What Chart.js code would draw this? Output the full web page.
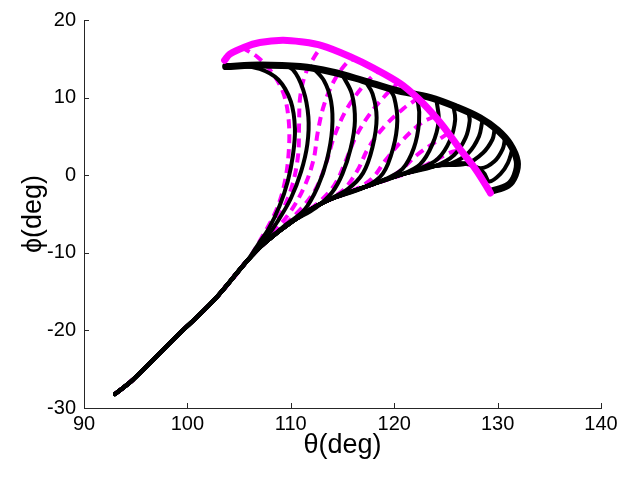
<!DOCTYPE html>
<html lang="en">

<head>
    <meta charset="UTF-8">
    <title>theta phi trajectories</title>
    <script src="https://cdn.jsdelivr.net/npm/chart.js"></script>
    <style>
        body { margin: 0; background: #fff; }
        #wrap { width: 643px; height: 479px; }
    </style>
</head>

<body>
    <div id="wrap"><canvas id="traj-chart" width="643" height="479"></canvas></div>

    <script>
        // axis ticks
        const xTicks = [90, 100, 110, 120, 130, 140];
        const yTicks = [-30, -20, -10, 0, 10, 20];

        // common stem that every trajectory shares (theta, phi)
        const stem = [[93.0, -28.2], [94.7, -26.4], [99.0, -20.7], [102.5, -16.2], [105.8, -11.0]];

        // black top edge, runs round to the lower right end
        const blackTop = [[103.7, 14.0], [107, 14.2], [110.9, 14.0], [114, 13.3], [117, 12.2], [120, 11.0], [123.5, 10.0],
            [126, 8.8], [128.3, 7.4], [130, 5.8], [131.2, 4.0], [131.9, 1.8], [131.7, 0], [131, -1.3], [129.3, -2.1]];

        // black branches, each continues from the stem
        const blackBranches = [
            [[106.8, -9.0], [107.9, -6.8], [108.9, -4.0], [109.7, -0.8], [110.2, 2.5], [110.4, 6.0], [110.0, 9.5], [108.8, 12.3], [107.0, 13.7], [105.0, 14.1], [103.7, 14.0]],
            [[107.0, -9.3], [108.7, -6.0], [110.0, -3.0], [111.0, 0.5], [111.6, 4.0], [111.7, 7.5], [111.2, 11.0], [110.2, 13.6], [109, 14.3]],
            [[107.5, -8.7], [109.5, -6.4], [111.3, -4.5], [112.6, -1.5], [113.5, 2.0], [114.0, 6.0], [113.9, 9.5], [113.2, 12.2], [112, 14.0]],
            [[107.5, -8.7], [110.1, -6.0], [112.4, -4.2], [114.0, -2.2], [115.0, 0.2], [115.8, 3.5], [116.2, 7.0], [115.9, 10.5], [115, 12.9]],
            [[107.5, -8.7], [110.1, -6.0], [113.3, -3.4], [115.5, -1.8], [117.0, 0.3], [117.9, 3.6], [118.3, 7.4], [117.9, 10.5], [117.2, 12.1]],
            [[107.5, -8.7], [110.1, -6.0], [113.3, -3.4], [117.2, -1.5], [118.9, 0.2], [119.9, 3.5], [120.3, 7.0], [120.0, 10.0], [119.5, 11.2]],
            [[107.5, -8.7], [110.1, -6.0], [113.3, -3.4], [117.2, -1.5], [119.0, -0.6], [120.8, 0.8], [121.9, 3.5], [122.4, 6.8], [122.3, 9.4], [121.8, 10.6]],
            [[107.5, -8.7], [110.1, -6.0], [113.3, -3.4], [117.2, -1.5], [120.5, 0.0], [122.5, 1.4], [123.7, 4.0], [124.3, 7.0], [124.1, 9.6]],
            [[107.5, -8.7], [110.1, -6.0], [113.3, -3.4], [117.2, -1.5], [120.5, 0.0], [122.2, 0.7], [124.2, 2.1], [125.4, 4.5], [125.9, 7.2], [125.7, 9.0]],
            [[107.5, -8.7], [110.1, -6.0], [113.3, -3.4], [117.2, -1.5], [120.5, 0.0], [124.0, 1.2], [125.8, 2.6], [126.9, 4.8], [127.3, 7.0], [127.2, 8.0]],
            [[107.5, -8.7], [110.1, -6.0], [113.3, -3.4], [117.2, -1.5], [120.5, 0.0], [124.0, 1.2], [125.5, 1.5], [127.2, 2.9], [128.2, 5.0], [128.5, 6.8]],
            [[107.5, -8.7], [110.1, -6.0], [113.3, -3.4], [117.2, -1.5], [120.5, 0.0], [124.0, 1.2], [127.0, 1.5], [128.6, 2.9], [129.5, 4.6], [129.7, 5.8]],
            [[107.5, -8.7], [110.1, -6.0], [113.3, -3.4], [117.2, -1.5], [120.5, 0.0], [124.0, 1.2], [127.0, 1.5], [128.4, 0.9], [129.7, 1.8], [130.5, 3.4], [130.7, 4.6]],
            [[107.5, -8.7], [110.1, -6.0], [113.3, -3.4], [117.2, -1.5], [120.5, 0.0], [124.0, 1.2], [127.0, 1.5], [128.6, 0.4], [129.2, -0.8], [130.3, 0.2], [131.0, 1.6], [131.4, 3.2]],
        ];

        // magenta solid top edge
        const magentaTop = [[103.6, 14.8], [104.1, 15.6], [105.5, 16.5], [107, 17.1], [109.2, 17.4], [111, 17.2], [113, 16.7],
            [115.7, 15.3], [118, 13.8], [120.6, 11.8], [122.3, 9.9], [123.8, 7.8], [125.2, 5.5], [126.4, 3.3], [127.8, 0.9], [129, -1.6], [129.3, -2.3]];

        // magenta dashed branches, each continues from the stem
        const magentaBranches = [
            [[107.2, -8.0], [108.6, -4.5], [109.4, -1.0], [109.8, 3.0], [109.8, 7.0], [109.3, 10.5], [108.2, 13.2], [106.8, 15.2], [105.5, 16.3]],
            [[107.4, -8.2], [109.0, -5.0], [110.1, -1.5], [110.7, 2.5], [110.8, 6.5], [110.9, 10.0], [111.4, 13.0], [112.3, 15.3], [113.0, 16.6]],
            [[108.0, -7.8], [109.9, -4.8], [111.3, -1.5], [112.2, 2.0], [112.6, 5.5], [113.2, 9.0], [114.2, 12.2], [115.5, 14.6], [116.2, 15.0]],
            [[108.5, -7.5], [110.8, -4.6], [112.4, -1.8], [113.4, 1.5], [114.2, 5.0], [115.4, 8.5], [117.0, 11.5], [118.4, 13.4]],
            [[108.0, -8.0], [110.0, -6.0], [112.6, -3.6], [114.2, -1.3], [115.3, 1.8], [116.3, 5.0], [117.7, 8.0], [119.3, 10.5], [120.4, 11.9]],
            [[108.0, -8.0], [110.0, -6.0], [113.0, -3.6], [115.0, -2.0], [116.4, 0.5], [117.5, 3.5], [119.0, 6.2], [120.9, 8.6], [122.3, 9.9]],
            [[108.0, -8.0], [110.0, -6.0], [113.0, -3.6], [116.0, -2.0], [117.8, -0.5], [119.2, 2.0], [120.8, 4.5], [122.6, 6.7], [123.9, 7.6]],
            [[108.0, -8.0], [110.0, -6.0], [113.0, -3.6], [116.0, -2.0], [119.0, -0.7], [120.6, 0.6], [122.2, 2.6], [124.0, 4.3], [125.2, 5.4]],
            [[108.0, -8.0], [110.0, -6.0], [113.0, -3.6], [116.0, -2.0], [119.0, -0.7], [122.0, 0.6], [123.8, 1.8], [125.4, 2.9], [126.3, 3.2]],
            [[108.0, -8.0], [110.0, -6.0], [113.0, -3.6], [116.0, -2.0], [119.0, -0.7], [122.0, 0.6], [124.5, 1.3], [126.3, 1.6], [127.6, 1.2]],
        ];

        function toPoints(list) {
            return list.map(p => ({ x: p[0], y: p[1] }));
        }

        const datasets = [];

        datasets.push({
            data: toPoints(magentaTop),
            borderColor: '#ff00ff',
            borderWidth: 7,
            order: 0
        });

        blackBranches.forEach(branch => {
            datasets.push({
                data: toPoints(stem.concat(branch)),
                borderColor: '#000000',
                borderWidth: 4,
                order: 1
            });
        });

        datasets.push({
            data: toPoints(blackTop),
            borderColor: '#000000',
            borderWidth: 7,
            order: 1
        });

        magentaBranches.forEach(branch => {
            datasets.push({
                data: toPoints(stem.concat(branch)),
                borderColor: '#ff00ff',
                borderWidth: 4,
                borderDash: [9, 6],
                borderCapStyle: 'butt',
                order: 2
            });
        });

        // inward tick marks like the original axes
        const inwardTicks = {
            id: 'inwardTicks',
            afterDraw(chart) {
                const ctx = chart.ctx;
                const xs = chart.scales.x;
                const ys = chart.scales.y;
                const area = chart.chartArea;
                ctx.save();
                ctx.strokeStyle = '#262626';
                ctx.lineWidth = 1;
                ctx.beginPath();
                xTicks.forEach(v => {
                    const px = Math.round(xs.getPixelForValue(v)) + 0.5;
                    ctx.moveTo(px, area.bottom);
                    ctx.lineTo(px, area.bottom - 5);
                });
                yTicks.forEach(v => {
                    const py = Math.round(ys.getPixelForValue(v)) + 0.5;
                    ctx.moveTo(area.left, py);
                    ctx.lineTo(area.left + 5, py);
                });
                ctx.stroke();
                ctx.restore();
            }
        };

        const fontName = "'Liberation Sans', Arial, sans-serif";

        new Chart(document.getElementById('traj-chart').getContext('2d'), {
            type: 'scatter',
            data: { datasets: datasets },
            options: {
                responsive: false,
                animation: false,
                showLine: true,
                layout: { padding: { top: 14, right: 42, left: 0, bottom: 0 } },
                elements: {
                    point: { radius: 0 },
                    line: { tension: 0.35, borderCapStyle: 'round', borderJoinStyle: 'round', fill: false }
                },
                plugins: {
                    legend: { display: false },
                    tooltip: { enabled: false }
                },
                scales: {
                    x: {
                        type: 'linear',
                        min: 90,
                        max: 140,
                        afterFit: s => { s.height = 71; },
                        afterBuildTicks: s => { s.ticks = xTicks.map(v => ({ value: v })); },
                        grid: { display: false, drawTicks: false },
                        border: { display: true, color: '#262626', width: 1 },
                        ticks: { color: '#000', padding: 4, maxRotation: 0, font: { family: fontName, size: 20 } },
                        title: { display: true, text: 'θ(deg)', color: '#000', padding: { bottom: 17 }, font: { family: fontName, size: 27 } }
                    },
                    y: {
                        type: 'linear',
                        min: -30,
                        max: 20,
                        afterFit: s => { s.width = 84; },
                        afterBuildTicks: s => { s.ticks = yTicks.map(v => ({ value: v })); },
                        grid: { display: false, drawTicks: false },
                        border: { display: true, color: '#262626', width: 1 },
                        ticks: { color: '#000', padding: 8, font: { family: fontName, size: 20 } },
                        title: { display: true, text: 'ϕ(deg)', color: '#000', padding: { top: 17 }, font: { family: fontName, size: 27 } }
                    }
                }
            },
            plugins: [inwardTicks]
        });
    </script>
</body>

</html>
